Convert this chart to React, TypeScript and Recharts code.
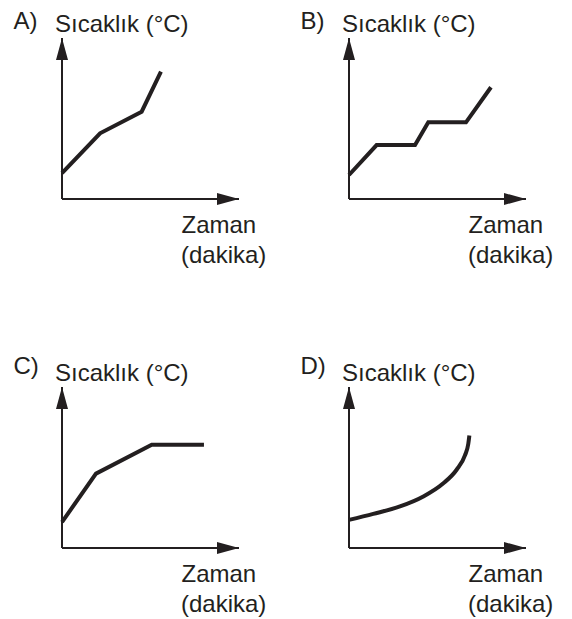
import { LineChart, Line, XAxis, YAxis, ReferenceDot, ReferenceLine } from "recharts";

// four answer choices, same axes: time (x) vs temperature (y), unitless 0..10
const panelLetters = ["A)", "B)", "C)", "D)"];
const yAxisTitle = "Sıcaklık (°C)";
const xAxisTitle = ["Zaman", "(dakika)"];

const timeA = [0, 2.15, 4.5, 5.59];
const tempA = [1.6, 4.08, 5.42, 7.91];

const timeB = [0, 1.56, 3.73, 4.48, 6.61, 8.02];
const tempB = [1.49, 3.35, 3.35, 4.76, 4.76, 6.94];

const timeC = [0, 1.92, 5.07, 8.02];
const tempC = [1.61, 4.62, 6.42, 6.42];

const timeD = [0, 1.37, 2.88, 4.2, 5.33, 6.08, 6.55, 6.74, 6.8];
const tempD = [1.75, 2.12, 2.58, 3.2, 4.02, 4.86, 5.75, 6.47, 6.99];

const INK = "#231f20";
const FONT = "'Liberation Sans', Arial, sans-serif";

const ArrowUp = (props: any) => {
  const { cx, cy } = props;
  return <polygon points={`${cx},${cy} ${cx - 6},${cy + 22} ${cx + 6},${cy + 22}`} fill={INK} />;
};

const ArrowRight = (props: any) => {
  const { cx, cy } = props;
  return <polygon points={`${cx},${cy} ${cx - 22},${cy - 6} ${cx - 22},${cy + 6}`} fill={INK} />;
};

interface PanelProps {
  letter: string;
  letterY: number;
  time: number[];
  temp: number[];
  curve: "linear" | "monotone";
  left: number;
  top: number;
}

function Panel({ letter, letterY, time, temp, curve, left, top }: PanelProps) {
  const data = time.map((t, i) => ({ t, temp: temp[i] }));
  return (
    <div style={{ position: "absolute", left, top, width: 287, height: 300 }}>
      <LineChart width={287} height={300} data={data} margin={{ top: 38, left: 62, right: 48, bottom: 101 }}>
        <XAxis type="number" dataKey="t" domain={[0, 10]} hide />
        <YAxis type="number" domain={[0, 10]} hide />
        {/* axes drawn as segments so the arrows sit on the domain ends */}
        <ReferenceLine
          segment={[{ x: 0, y: 0 }, { x: 10, y: 0 }]}
          stroke={INK}
          strokeWidth={2}
          ifOverflow="visible"
        />
        <ReferenceLine
          segment={[{ x: 0, y: 0 }, { x: 0, y: 10 }]}
          stroke={INK}
          strokeWidth={2}
          ifOverflow="visible"
        />
        <Line
          type={curve}
          dataKey="temp"
          stroke={INK}
          strokeWidth={4}
          dot={false}
          activeDot={false}
          isAnimationActive={false}
        />
        <ReferenceDot x={10} y={0} r={1} shape={ArrowRight} ifOverflow="visible" />
        <ReferenceDot x={0} y={10} r={1} shape={ArrowUp} ifOverflow="visible" />
      </LineChart>
      <svg
        width={287}
        height={300}
        style={{ position: "absolute", left: 0, top: 0, pointerEvents: "none" }}
        fontFamily={FONT}
        fontSize={24}
        fill={INK}
      >
        <text x={13.5} y={letterY}>{letter}</text>
        <text x={55} y={32}>{yAxisTitle}</text>
        <text x={181.5} y={233}>{xAxisTitle[0]}</text>
        <text x={181} y={262.5}>{xAxisTitle[1]}</text>
      </svg>
    </div>
  );
}

export default function App() {
  return (
    <div style={{ position: "absolute", left: 0, top: 0, width: 572, height: 619, background: "#fff" }}>
      <Panel letter={panelLetters[0]} letterY={28.5} time={timeA} temp={tempA} curve="linear" left={0} top={0} />
      <Panel letter={panelLetters[1]} letterY={28.5} time={timeB} temp={tempB} curve="linear" left={287} top={0} />
      <Panel letter={panelLetters[2]} letterY={24.5} time={timeC} temp={tempC} curve="linear" left={0} top={349} />
      <Panel letter={panelLetters[3]} letterY={24.5} time={timeD} temp={tempD} curve="monotone" left={287} top={349} />
    </div>
  );
}
